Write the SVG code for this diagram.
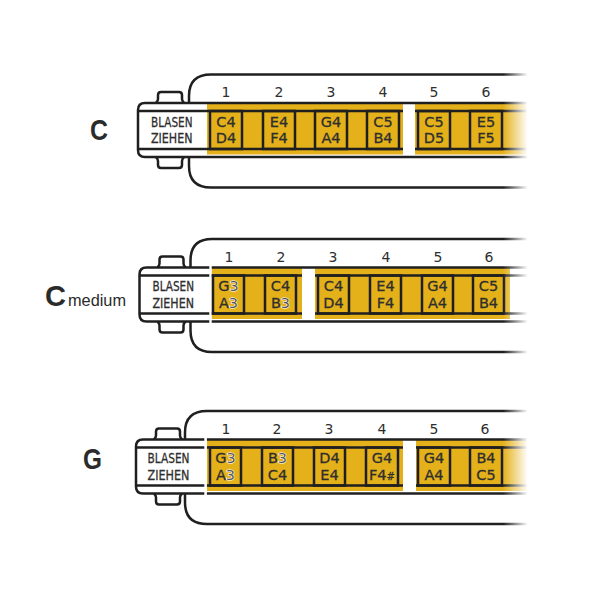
<svg xmlns="http://www.w3.org/2000/svg" width="615" height="600" viewBox="0 0 615 600">
<style>
.ln{fill:none;stroke:#1f1f1f;stroke-width:2.5}
.tab{fill:#fff;stroke:#1f1f1f;stroke-width:2.5}
.bg{fill:#fff}
.y{fill:#E4B11B}
.cell{fill:none;stroke:#1f1f1f;stroke-width:2.5}
.t{font-family:"DejaVu Sans",sans-serif;font-size:14.5px;fill:#2e2e2e;stroke:#2e2e2e;stroke-width:0.3;text-anchor:middle}
.lab{font-family:"DejaVu Sans",sans-serif;font-size:14px;fill:#2e2e2e;stroke:#2e2e2e;stroke-width:0.3}
.num{font-family:"DejaVu Sans",sans-serif;font-size:14px;fill:#2e2e2e;text-anchor:middle}
.big{font-family:"Liberation Sans",sans-serif;font-weight:bold;font-size:30px;fill:#2b2b2b}
.med{font-family:"Liberation Sans",sans-serif;font-size:17px;fill:#2b2b2b}
.w3{fill:#555;stroke:#fff;stroke-width:1.2;paint-order:stroke}
.sh{font-size:10px}
</style>
<defs>
<linearGradient id="fade" x1="0" y1="0" x2="1" y2="0">
<stop offset="0" stop-color="#fff" stop-opacity="0"/>
<stop offset="1" stop-color="#fff" stop-opacity="1"/>
</linearGradient>
</defs>

<!-- C -->
<g id="harp-c">
<text class="big" x="90" y="140" textLength="18" lengthAdjust="spacingAndGlyphs">C</text>
<path class="ln" d="M527 74.5 H211 Q189 74.5 189 96 V103"/>
<path class="ln" d="M527 187.5 H211 Q189 187.5 189 166 V157"/>
<path class="tab" d="M156 103 Q158 101 158 99 V95 Q158 92 161 92 H179 Q182 92 182 95 V99 Q182 101 184 103"/>
<path class="tab" d="M156 157 Q158 159 158 161 V165 Q158 168 161 168 H179 Q182 168 182 165 V161 Q182 159 184 157"/>
<path class="bg" d="M527 103 H145 Q138 103 138 110 V150 Q138 157 145 157 H527 Z"/>
<rect class="y" x="207" y="103" width="196" height="51.5"/>
<rect class="y" x="415" y="103" width="112" height="51.5"/>
<path class="ln" d="M138 111 H403 M415 111 H527 M138 149 H403 M415 149 H527"/>
<path class="ln" d="M527 103 H145 Q138 103 138 110 V150 Q138 157 145 157 H527"/>
<rect class="cell" x="210" y="111" width="32" height="38"/>
<rect class="cell" x="263" y="111" width="32" height="38"/>
<rect class="cell" x="315" y="111" width="32" height="38"/>
<rect class="cell" x="367" y="111" width="32" height="38"/>
<rect class="cell" x="418" y="111" width="32" height="38"/>
<rect class="cell" x="470" y="111" width="32" height="38"/>
<text class="lab" x="151" y="126.5" textLength="41.5" lengthAdjust="spacingAndGlyphs">BLASEN</text>
<text class="lab" x="151" y="143" textLength="41.5" lengthAdjust="spacingAndGlyphs">ZIEHEN</text>
<text class="num" x="226" y="97">1</text>
<text class="num" x="279" y="97">2</text>
<text class="num" x="331" y="97">3</text>
<text class="num" x="383" y="97">4</text>
<text class="num" x="434" y="97">5</text>
<text class="num" x="486" y="97">6</text>
<text class="t" x="226" y="126.5">C4</text><text class="t" x="226" y="143">D4</text>
<text class="t" x="279" y="126.5">E4</text><text class="t" x="279" y="143">F4</text>
<text class="t" x="331" y="126.5">G4</text><text class="t" x="331" y="143">A4</text>
<text class="t" x="383" y="126.5">C5</text><text class="t" x="383" y="143">B4</text>
<text class="t" x="434" y="126.5">C5</text><text class="t" x="434" y="143">D5</text>
<text class="t" x="486" y="126.5">E5</text><text class="t" x="486" y="143">F5</text>
<rect x="503" y="70" width="25" height="122" fill="url(#fade)"/>
<rect x="527" y="70" width="88" height="122" fill="#fff"/>
</g>

<!-- C medium -->
<g id="harp-cmedium" transform="translate(0,164.5)">
<text class="big" x="45" y="141.5" textLength="21" lengthAdjust="spacingAndGlyphs">C</text>
<text class="med" x="68" y="141.5" textLength="58" lengthAdjust="spacingAndGlyphs">medium</text>
<path class="ln" d="M527 74.5 H212 Q190.5 74.5 190.5 96 V103"/>
<path class="ln" d="M527 187.5 H212 Q190.5 187.5 190.5 166 V157"/>
<path class="tab" d="M157.5 103 Q159.5 101 159.5 99 V95 Q159.5 92 162.5 92 H180.5 Q183.5 92 183.5 95 V99 Q183.5 101 185.5 103"/>
<path class="tab" d="M157.5 157 Q159.5 159 159.5 161 V165 Q159.5 168 162.5 168 H180.5 Q183.5 168 183.5 165 V161 Q183.5 159 185.5 157"/>
<path class="bg" d="M527 103 H146.5 Q139.5 103 139.5 110 V150 Q139.5 157 146.5 157 H527 Z"/>
<rect class="y" x="211.5" y="103" width="90.5" height="51.5"/>
<rect class="y" x="315" y="103" width="195" height="51.5"/>
<path class="ln" d="M139.5 111 H302 M315 111 H527 M139.5 149 H302 M315 149 H527"/>
<path class="ln" d="M527 103 H146.5 Q139.5 103 139.5 110 V150 Q139.5 157 146.5 157 H527"/>
<rect x="209.3" y="100" width="2.4" height="60" fill="#fff"/>
<rect class="cell" x="213" y="111" width="31" height="38"/>
<rect class="cell" x="265" y="111" width="31" height="38"/>
<rect class="cell" x="318" y="111" width="31" height="38"/>
<rect class="cell" x="370" y="111" width="31" height="38"/>
<rect class="cell" x="422" y="111" width="31" height="38"/>
<rect class="cell" x="473" y="111" width="31" height="38"/>
<text class="lab" x="152.5" y="126.5" textLength="41.5" lengthAdjust="spacingAndGlyphs">BLASEN</text>
<text class="lab" x="152.5" y="143" textLength="41.5" lengthAdjust="spacingAndGlyphs">ZIEHEN</text>
<text class="num" x="229" y="97">1</text>
<text class="num" x="281" y="97">2</text>
<text class="num" x="333" y="97">3</text>
<text class="num" x="386" y="97">4</text>
<text class="num" x="438" y="97">5</text>
<text class="num" x="489" y="97">6</text>
<text class="t" x="228.5" y="126.5">G<tspan class="w3">3</tspan></text><text class="t" x="228.5" y="143">A<tspan class="w3">3</tspan></text>
<text class="t" x="280.5" y="126.5">C4</text><text class="t" x="280.5" y="143">B<tspan class="w3">3</tspan></text>
<text class="t" x="333.5" y="126.5">C4</text><text class="t" x="333.5" y="143">D4</text>
<text class="t" x="385.5" y="126.5">E4</text><text class="t" x="385.5" y="143">F4</text>
<text class="t" x="437.5" y="126.5">G4</text><text class="t" x="437.5" y="143">A4</text>
<text class="t" x="488.5" y="126.5">C5</text><text class="t" x="488.5" y="143">B4</text>
<rect x="503" y="70" width="25" height="122" fill="url(#fade)"/>
<rect x="527" y="70" width="88" height="122" fill="#fff"/>
</g>

<!-- G -->
<g id="harp-g" transform="translate(0,336.5)">
<text class="big" x="83" y="132.5" textLength="19" lengthAdjust="spacingAndGlyphs">G</text>
<path class="ln" d="M527 74.5 H207 Q185 74.5 185 96 V103"/>
<path class="ln" d="M527 187.5 H207 Q185 187.5 185 166 V157"/>
<path class="tab" d="M154 103 Q156 101 156 99 V95 Q156 92 159 92 H177 Q180 92 180 95 V99 Q180 101 182 103"/>
<path class="tab" d="M154 157 Q156 159 156 161 V165 Q156 168 159 168 H177 Q180 168 180 165 V161 Q180 159 182 157"/>
<path class="bg" d="M527 103 H143 Q136 103 136 110 V150 Q136 157 143 157 H527 Z"/>
<rect class="y" x="207" y="103" width="196" height="51.5"/>
<rect class="y" x="416" y="103" width="111" height="51.5"/>
<path class="ln" d="M136 111 H403 M416 111 H527 M136 149 H403 M416 149 H527"/>
<path class="ln" d="M527 103 H143 Q136 103 136 110 V150 Q136 157 143 157 H527"/>
<rect x="204.3" y="100" width="2.6" height="60" fill="#fff"/>
<rect class="cell" x="210" y="111" width="31" height="38"/>
<rect class="cell" x="262" y="111" width="31" height="38"/>
<rect class="cell" x="314" y="111" width="31" height="38"/>
<rect class="cell" x="366" y="111" width="32" height="38"/>
<rect class="cell" x="418" y="111" width="32" height="38"/>
<rect class="cell" x="470" y="111" width="32" height="38"/>
<text class="lab" x="147.5" y="126.5" textLength="42" lengthAdjust="spacingAndGlyphs">BLASEN</text>
<text class="lab" x="147.5" y="143" textLength="42" lengthAdjust="spacingAndGlyphs">ZIEHEN</text>
<text class="num" x="226" y="97">1</text>
<text class="num" x="277" y="97">2</text>
<text class="num" x="329" y="97">3</text>
<text class="num" x="382" y="97">4</text>
<text class="num" x="434" y="97">5</text>
<text class="num" x="485" y="97">6</text>
<text class="t" x="225.5" y="126.5">G<tspan class="w3">3</tspan></text><text class="t" x="225.5" y="143">A<tspan class="w3">3</tspan></text>
<text class="t" x="277.5" y="126.5">B<tspan class="w3">3</tspan></text><text class="t" x="277.5" y="143">C4</text>
<text class="t" x="329.5" y="126.5">D4</text><text class="t" x="329.5" y="143">E4</text>
<text class="t" x="382" y="126.5">G4</text><text class="t" x="382" y="143">F4<tspan class="sh">#</tspan></text>
<text class="t" x="434" y="126.5">G4</text><text class="t" x="434" y="143">A4</text>
<text class="t" x="486" y="126.5">B4</text><text class="t" x="486" y="143">C5</text>
<rect x="503" y="70" width="25" height="122" fill="url(#fade)"/>
<rect x="527" y="70" width="88" height="122" fill="#fff"/>
</g>
</svg>
